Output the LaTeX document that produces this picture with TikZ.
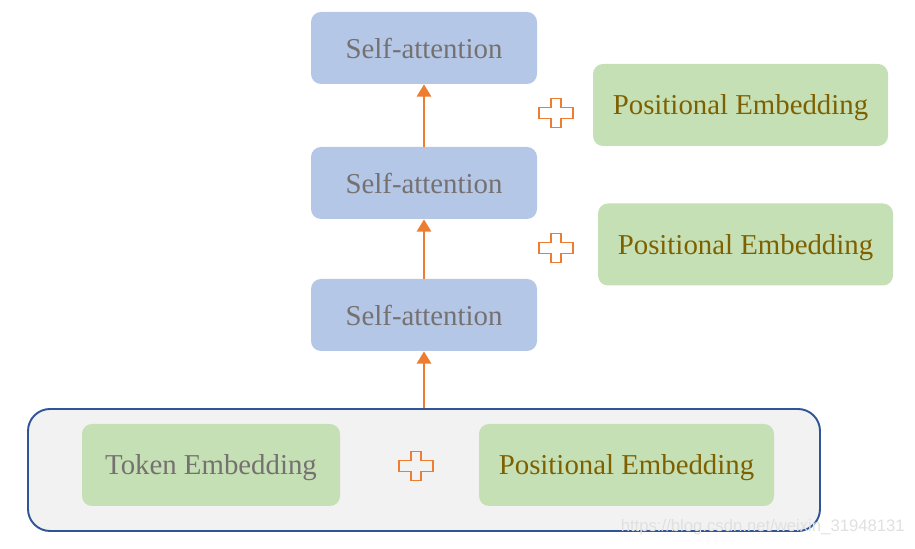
\documentclass[tikz,border=0pt]{standalone}
\usepackage{fontspec}
\setmainfont{Liberation Serif}
\setsansfont{Liberation Sans}
\usepackage{xcolor}
\usetikzlibrary{arrows.meta}

\definecolor{attnblue}{HTML}{B4C7E7}
\definecolor{embgreen}{HTML}{C5E0B4}
\definecolor{txtgray}{HTML}{767171}
\definecolor{txtgold}{HTML}{7F6000}
\definecolor{plusorange}{HTML}{ED7D31}
\definecolor{boxblue}{HTML}{2F5597}
\definecolor{boxfill}{HTML}{F2F2F2}

\begin{document}
\begin{tikzpicture}[
    attn/.style={rectangle, rounded corners=0.2cm, fill=attnblue, minimum width=4.52cm, minimum height=1.44cm, inner sep=0pt, text=txtgray, text depth=0pt, font=\fontsize{16.4}{19}\selectfont},
    embed/.style={rectangle, rounded corners=0.2cm, fill=embgreen, minimum width=5.9cm, minimum height=1.64cm, inner sep=0pt, text=txtgold, text depth=0pt, font=\fontsize{16.4}{19}\selectfont},
    inbox/.style={rectangle, rounded corners=0.44cm, draw=boxblue, line width=1.1pt, fill=boxfill, minimum width=15.84cm, minimum height=2.44cm, inner sep=0pt},
    arrow/.style={-{Triangle[width=8pt,length=7pt]}, line width=1.6pt, draw=plusorange},
    plussign/.pic={
        \draw[plusorange, line width=1.1pt]
            (-0.1,0.29) -- (0.1,0.29) -- (0.1,0.11) -- (0.34,0.11) -- (0.34,-0.11)
            -- (0.1,-0.11) -- (0.1,-0.29) -- (-0.1,-0.29) -- (-0.1,-0.11)
            -- (-0.34,-0.11) -- (-0.34,0.11) -- (-0.1,0.11) -- cycle;
    }
]
\useasboundingbox (0,0) rectangle (18.3,10.98);

% Input block
\node[inbox] (input) at (8.48,1.58) {};
\node[embed, minimum width=5.16cm, text=txtgray] (token) at (4.22,1.68) {Token Embedding};
\node[embed] (pos_in) at (12.53,1.68) {Positional Embedding};
\pic at (8.32,1.66) {plussign};

% Self-attention layers
\node[attn] (sa_1) at (8.48,4.68) {Self-attention};
\node[attn] (sa_2) at (8.48,7.32) {Self-attention};
\node[attn] (sa_3) at (8.48,10.02) {Self-attention};

% Positional embeddings between layers
\node[embed] (pos_2) at (14.91,6.09) {Positional Embedding};
\node[embed] (pos_3) at (14.81,8.88) {Positional Embedding};
\pic at (11.12,6.02) {plussign};
\pic at (11.12,8.72) {plussign};

% Arrows
\draw[arrow] (input.north) -- (sa_1.south);
\draw[arrow] (sa_1.north) -- (sa_2.south);
\draw[arrow] (sa_2.north) -- (sa_3.south);

% Watermark
\node[font=\sffamily\fontsize{9.5}{11}\selectfont, text=black!12, anchor=east] (mark) at (18.22,0.44) {https://blog.csdn.net/weixin\_31948131};

\end{tikzpicture}
\end{document}
